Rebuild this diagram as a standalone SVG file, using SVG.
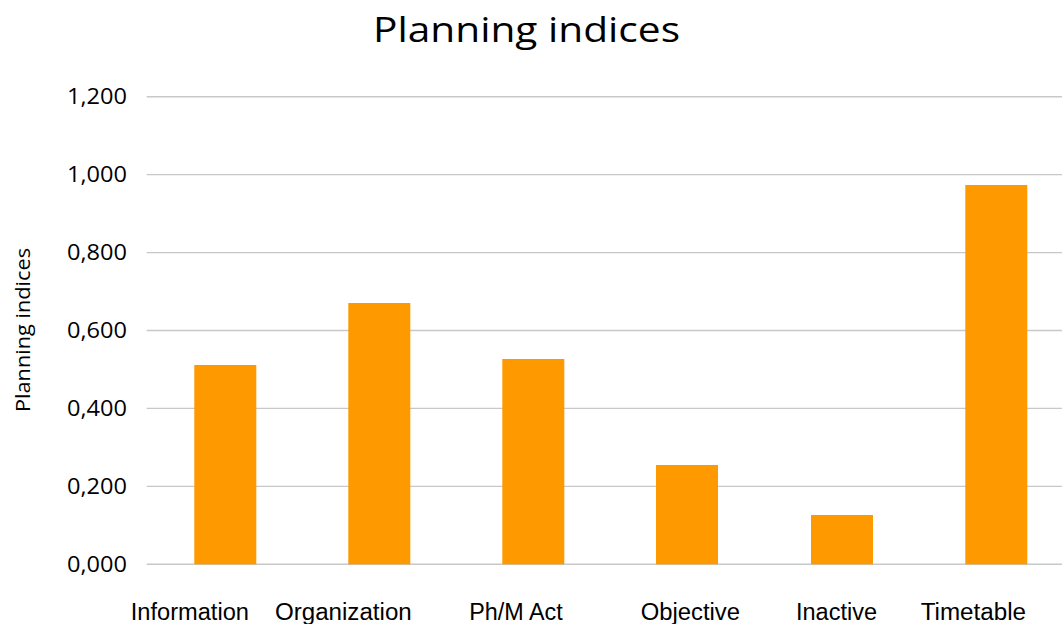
<svg xmlns="http://www.w3.org/2000/svg" width="1062" height="624" viewBox="0 0 1062 624">
<style>
.grid{stroke:#c8c8c8;stroke-width:1.4;fill:none}
.bar{fill:#ff9900}
.title{font-family:"Open Sans","Noto Sans",sans-serif;font-size:35px;fill:#000}
.ytick{font-family:"Open Sans","Noto Sans",sans-serif;font-size:21px;fill:#000;text-anchor:end}
.ytitle{font-family:"Open Sans","Noto Sans",sans-serif;font-size:20px;fill:#000;text-anchor:middle}
.cat{font-family:"Liberation Sans",Arial,sans-serif;font-size:23.5px;fill:#000}
</style>
<rect width="1062" height="624" fill="#ffffff"/>
<g id="title"><text class="title" x="373" y="42" textLength="307" lengthAdjust="spacingAndGlyphs">Planning indices</text></g>
<g id="gridlines">
<line class="grid" x1="146.7" y1="96.7" x2="1062" y2="96.7"/>
<line class="grid" x1="146.7" y1="174.6" x2="1062" y2="174.6"/>
<line class="grid" x1="146.7" y1="252.6" x2="1062" y2="252.6"/>
<line class="grid" x1="146.7" y1="330.5" x2="1062" y2="330.5"/>
<line class="grid" x1="146.7" y1="408.4" x2="1062" y2="408.4"/>
<line class="grid" x1="146.7" y1="486.4" x2="1062" y2="486.4"/>
<line class="grid" x1="146.7" y1="564.3" x2="1062" y2="564.3"/>
</g>
<g id="y-axis">
<text class="ytick" x="127" y="104.2" textLength="60" lengthAdjust="spacingAndGlyphs">1,200</text>
<text class="ytick" x="127" y="182.1" textLength="60" lengthAdjust="spacingAndGlyphs">1,000</text>
<text class="ytick" x="127" y="260.1" textLength="60" lengthAdjust="spacingAndGlyphs">0,800</text>
<text class="ytick" x="127" y="338" textLength="60" lengthAdjust="spacingAndGlyphs">0,600</text>
<text class="ytick" x="127" y="415.9" textLength="60" lengthAdjust="spacingAndGlyphs">0,400</text>
<text class="ytick" x="127" y="493.9" textLength="60" lengthAdjust="spacingAndGlyphs">0,200</text>
<text class="ytick" x="127" y="571.8" textLength="60" lengthAdjust="spacingAndGlyphs">0,000</text>
<text class="ytitle" transform="translate(29.5,330) rotate(-90)" x="0" y="0" textLength="164" lengthAdjust="spacingAndGlyphs">Planning indices</text>
</g>
<g id="bar-information"><rect class="bar" x="194.3" y="365" width="62" height="199.3"/><text class="cat" x="130.7" y="620" textLength="118.3" lengthAdjust="spacingAndGlyphs">Information</text></g>
<g id="bar-organization"><rect class="bar" x="348.3" y="303" width="62" height="261.3"/><text class="cat" x="275" y="620" textLength="136.7" lengthAdjust="spacingAndGlyphs">Organization</text></g>
<g id="bar-phm-act"><rect class="bar" x="502.3" y="359" width="62" height="205.3"/><text class="cat" x="469.3" y="620" textLength="93.4" lengthAdjust="spacingAndGlyphs">Ph/M Act</text></g>
<g id="bar-objective"><rect class="bar" x="656" y="465" width="62" height="99.3"/><text class="cat" x="640.7" y="620" textLength="99.3" lengthAdjust="spacingAndGlyphs">Objective</text></g>
<g id="bar-inactive"><rect class="bar" x="811" y="515" width="62" height="49.3"/><text class="cat" x="796" y="620" textLength="81" lengthAdjust="spacingAndGlyphs">Inactive</text></g>
<g id="bar-timetable"><rect class="bar" x="965.3" y="185" width="62" height="379.3"/><text class="cat" x="920.7" y="620" textLength="105.3" lengthAdjust="spacingAndGlyphs">Timetable</text></g>
<g id="connectors"></g>
</svg>
